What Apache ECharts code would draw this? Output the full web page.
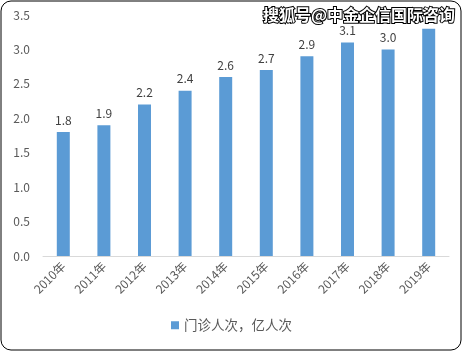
<!DOCTYPE html>
<html><head><meta charset="utf-8">
<script src="https://cdn.jsdelivr.net/npm/echarts@6/dist/echarts.min.js"></script>
<style>html,body{margin:0;padding:0;background:#fff}#c{width:463px;height:352px}</style>
</head><body><div id="c"></div>
<script>
const categories = ['2010年','2011年','2012年','2013年','2014年','2015年','2016年','2017年','2018年','2019年'];
const values = [1.8, 1.9, 2.2, 2.4, 2.6, 2.7, 2.9, 3.1, 3.0, 3.3];
const seriesName = '门诊人次，亿人次';
const watermark = '搜狐号@中金企信国际咨询';
const font = '"Microsoft YaHei","Noto Sans CJK SC",sans-serif';

const chart = echarts.init(document.getElementById('c'));
chart.setOption({
  animation: false,
  textStyle: {fontFamily: font},
  grid: {left: 43, right: 14, top: 15, bottom: 96, containLabel: false},
  xAxis: {
    type: 'category', data: categories,
    axisLine: {lineStyle: {color: '#d9d9d9'}},
    axisTick: {show: false},
    axisLabel: {rotate: 45, color: '#595959', fontSize: 12, margin: 8, interval: 0}
  },
  yAxis: {
    type: 'value', min: 0, max: 3.5, interval: 0.5,
    splitLine: {show: false},
    axisLine: {show: false}, axisTick: {show: false},
    axisLabel: {color: '#595959', fontSize: 12, margin: 13, formatter: v => v.toFixed(1)}
  },
  legend: {
    bottom: 15, left: 'center', itemWidth: 8, itemHeight: 8, icon: 'rect', itemGap: 5,
    textStyle: {color: '#595959', fontSize: 13.5}
  },
  series: [{
    name: seriesName, type: 'bar', barWidth: '32%',
    itemStyle: {color: '#5B9BD5'},
    data: values.map((v, i) => i === values.length - 1 ? {value: v, label: {show: false}} : v),
    label: {show: true, position: 'top', color: '#404040', fontSize: 12, distance: 6, formatter: p => p.value.toFixed(1)}
  }],
  graphic: [
    {type: 'rect', shape: {x: 1, y: 1, width: 460, height: 349, r: 10}, style: {fill: 'none', stroke: '#000', lineWidth: 1}, z: 100},
    {type: 'text', left: 262, top: 6, z: 101,
     style: {text: watermark, fill: '#fff', stroke: '#000', lineWidth: 2, font: 'bold 16px "Noto Sans CJK SC", sans-serif'}}
  ]
});
</script></body></html>
